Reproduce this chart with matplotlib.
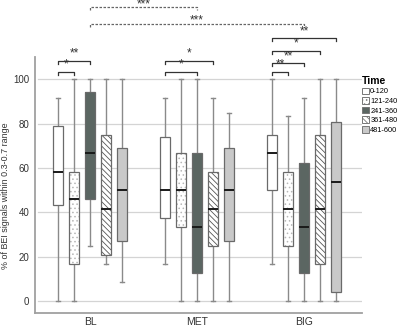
import matplotlib
matplotlib.use("Agg")
import matplotlib.pyplot as plt
from matplotlib.patches import Patch

groups = ["BL", "MET", "BIG"]
times = ["0-120", "121-240", "241-360", "361-480", "481-600"]

# per group, per time: whisker low, Q1, median, Q3, whisker high
wlo = [[0, 0, 25, 16.7, 8.7],
       [16.7, 0, 0, 0, 0],
       [16.7, 0, 0, 0, 0]]
q1 = [[43.5, 16.7, 45.9, 20.9, 27],
      [37.5, 33.3, 12.5, 25, 27],
      [50, 25, 12.5, 16.7, 3.9]]
med = [[58.3, 45.9, 66.7, 41.7, 50],
       [50, 50, 33.3, 41.7, 50],
       [66.7, 41.7, 33.3, 41.7, 53.7]]
q3 = [[79, 58.3, 94.3, 75, 69],
      [74.2, 66.7, 66.7, 58.3, 69],
      [75, 58.3, 62.1, 75, 80.6]]
whi = [[91.7, 100, 100, 100, 100],
       [91.7, 100, 100, 91.7, 84.7],
       [100, 83.3, 91.7, 100, 100]]

# significance within a group: (group, time a, time b, height, stars)
sig_in = [(0, 0, 1, 103.5, "*"), (0, 0, 2, 108.5, "**"),
          (1, 0, 2, 103.5, "*"), (1, 0, 3, 108.5, "*"),
          (2, 0, 1, 103.5, "**"), (2, 0, 2, 107.5, "**"),
          (2, 0, 3, 113, "*"), (2, 0, 4, 118.5, "**")]
# between groups (dashed): (group a, group b, height, stars)
sig_between = [(0, 1, 132.5, "***"), (0, 2, 125, "***")]

faces = ["white", "white", "#5b6662", "white", "#c9c9c9"]
hatches = [None, "....", None, "\\\\\\\\\\\\", None]
hatch_cols = ["white", "#b8b8b8", "#5b6662", "#555555", "#c9c9c9"]

step = 0.15
bw = 0.093

def xpos(g, k):
    return g + (k - 2) * step

plt.rcParams["font.family"] = "Liberation Sans"
plt.rcParams["hatch.linewidth"] = 0.6

fig = plt.figure(figsize=(4, 3.29), dpi=100)
ax = fig.add_axes([0.0875, 0.0486, 0.8175, 0.9514])

for k in range(len(times)):
    stats = []
    pos = []
    for g in range(len(groups)):
        stats.append({"whislo": wlo[g][k], "q1": q1[g][k], "med": med[g][k],
                      "q3": q3[g][k], "whishi": whi[g][k], "fliers": []})
        pos.append(xpos(g, k))
    # fill + hatch layer
    plt.rcParams["hatch.color"] = hatch_cols[k]
    b1 = ax.bxp(stats, positions=pos, widths=bw, patch_artist=True,
                showfliers=False, showcaps=False, manage_ticks=False,
                whiskerprops=dict(linewidth=0), medianprops=dict(linewidth=0),
                boxprops=dict(linewidth=0))
    for p in b1["boxes"]:
        p.set_facecolor(faces[k])
        p.set_edgecolor(hatch_cols[k])
        p.set_linewidth(0)
        if hatches[k]:
            p.set_hatch(hatches[k])
        p.set_zorder(2)
    # outline layer
    ax.bxp(stats, positions=pos, widths=bw, patch_artist=True,
           showfliers=False, manage_ticks=False, capwidths=0.04,
           boxprops=dict(facecolor="none", edgecolor="#6a6a6a", linewidth=0.9, zorder=3),
           whiskerprops=dict(color="#8a8a8a", linewidth=1.0, zorder=1),
           capprops=dict(color="#8a8a8a", linewidth=1.0, zorder=1),
           medianprops=dict(color="#1a1a1a", linewidth=1.4, zorder=4))

tick = 1.4
for g, a, b, h, s in sig_in:
    x0, x1 = xpos(g, a), xpos(g, b)
    ax.plot([x0, x0, x1, x1], [h - tick, h, h, h - tick], color="#333333", lw=0.9,
            clip_on=False)
    ax.text((x0 + x1) / 2, h + 0.3, s, ha="center", va="bottom", fontsize=8.5,
            color="#333333")

for ga, gb, h, s in sig_between:
    ax.plot([ga, ga, gb, gb], [h - tick, h, h, h - tick], color="#666666", lw=0.9,
            ls=(0, (2, 1.2)), clip_on=False)
    ax.text((ga + gb) / 2, h - 1.3, s, ha="center", va="bottom", fontsize=8.5,
            color="#333333")

ax.set_xlim(-0.514, 2.542)
ax.set_ylim(-5.4, 135.8)
ax.set_yticks([0, 20, 40, 60, 80, 100])
ax.set_xticks(range(len(groups)))
ax.set_xticklabels(groups)
ax.tick_params(axis="both", length=0, labelsize=7, colors="#333333")
ax.tick_params(axis="x", labelsize=7.5, pad=3)
ax.tick_params(axis="y", pad=4)
for y in [0, 20, 40, 60, 80, 100]:
    ax.axhline(y, xmin=0.01, xmax=1, color="#d4d4d4", lw=0.9, zorder=0)
ax.set_facecolor("none")
for sp in ["top", "right"]:
    ax.spines[sp].set_visible(False)
for sp in ["left", "bottom"]:
    ax.spines[sp].set_color("#a0a0a0")
    ax.spines[sp].set_linewidth(1.3)
ax.spines["left"].set_bounds(-5.4, 110)
ax.set_ylabel("% of BEI signals within 0.3-0.7 range", fontsize=6.4, color="#333333")
ax.yaxis.set_label_coords(-0.077, 0.374)

plt.rcParams["hatch.color"] = "#555555"
handles = []
for k in range(len(times)):
    handles.append(Patch(facecolor=faces[k], edgecolor="#777777", linewidth=0.7,
                         hatch=hatches[k], label=times[k]))
leg = fig.legend(handles=handles, title="Time", loc="upper left",
                 bbox_to_anchor=(0.893, 0.785), frameon=False, fontsize=5.3,
                 handlelength=0.95, handleheight=1.05, handletextpad=0.12,
                 labelspacing=0.22, borderpad=0.2)
leg.get_title().set_fontweight("bold")
leg.get_title().set_fontsize(7.5)
leg._legend_box.align = "left"

fig.savefig("out.png", dpi=100)
